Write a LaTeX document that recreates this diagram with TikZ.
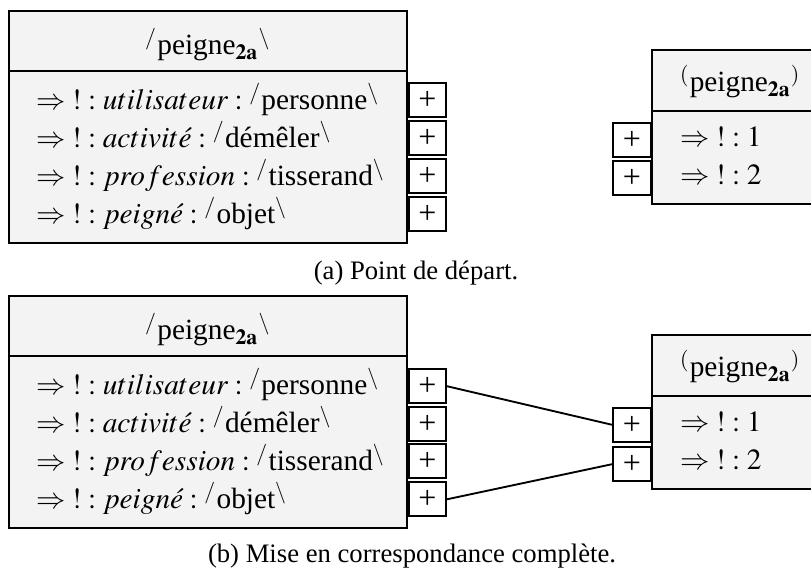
\documentclass[tikz,border=0pt]{standalone}
\usepackage{mathptmx}
\usepackage[no-math]{fontspec}
\setmainfont{Liberation Serif}
\definecolor{boxfill}{RGB}{243,243,243}
\newcommand{\pg}{peigne$_{\mathbf{2a}}$}
\newcommand{\ra}{\Rightarrow\;!:}
\begin{document}
\begin{tikzpicture}[x=0.375pt,y=-0.375pt,
  every node/.style={inner sep=0pt, outer sep=0pt},
  bigbox/.style={draw, line width=0.75pt, fill=boxfill},
  divline/.style={line width=0.75pt},
  plusbox/.style={draw, line width=0.75pt, fill=white, minimum width=13.9pt, minimum height=12.75pt, font=\fontsize{12}{13}\selectfont},
  rplusbox/.style={plusbox, minimum width=14.25pt},
  rowtxt/.style={anchor=base west, font=\fontsize{11}{13}\selectfont},
  headtxt/.style={anchor=base, font=\fontsize{11}{13}\selectfont},
  captxt/.style={anchor=base, font=\fontsize{10}{12}\selectfont},
  conn/.style={line width=0.7pt}]
\useasboundingbox (0,0) rectangle (811,573);
\clip (0,0) rectangle (811,573);

% ---------- (a) ----------
\draw[bigbox] (9,11) rectangle (407,243);
\draw[divline] (9,71) -- (407,71);
\node[headtxt] (ha) at (208,55) {$^{/}$\pg$^{\backslash}$};
\node[rowtxt] (ra1) at (36,110) {$\ra utilisateur :{}^{/}$personne$^{\backslash}$};
\node[rowtxt] (ra2) at (36,148) {$\ra activit\acute{e} :{}^{/}$démêler$^{\backslash}$};
\node[rowtxt] (ra3) at (36,186) {$\ra profession :{}^{/}$tisserand$^{\backslash}$};
\node[rowtxt] (ra4) at (36,224) {$\ra peign\acute{e} :{}^{/}$objet$^{\backslash}$};
\node[plusbox] (pa1) at (427.5,100) {+};
\node[plusbox] (pa2) at (427.5,138.5) {+};
\node[plusbox] (pa3) at (427.5,176.5) {+};
\node[plusbox] (pa4) at (427.5,214) {+};

\draw[bigbox] (652,50) rectangle (830,204);
\draw[divline] (652,111) -- (830,111);
\node[rowtxt] (hra) at (680,92) {$^{(}$\pg$^{)}$};
\node[rowtxt] (sa1) at (680,147) {$\ra 1$};
\node[rowtxt] (sa2) at (680,185) {$\ra 2$};
\node[rplusbox] (qa1) at (632,140) {+};
\node[rplusbox] (qa2) at (632,178) {+};

\node[captxt] (capa) at (416,280) {(a) Point de départ.};

% ---------- (b) ----------
\draw[bigbox] (9,296) rectangle (407,528);
\draw[divline] (9,356) -- (407,356);
\node[headtxt] (hb) at (208,340) {$^{/}$\pg$^{\backslash}$};
\node[rowtxt] (rb1) at (36,395) {$\ra utilisateur :{}^{/}$personne$^{\backslash}$};
\node[rowtxt] (rb2) at (36,433) {$\ra activit\acute{e} :{}^{/}$démêler$^{\backslash}$};
\node[rowtxt] (rb3) at (36,471) {$\ra profession :{}^{/}$tisserand$^{\backslash}$};
\node[rowtxt] (rb4) at (36,509) {$\ra peign\acute{e} :{}^{/}$objet$^{\backslash}$};
\node[plusbox] (pb1) at (427.5,386) {+};
\node[plusbox] (pb2) at (427.5,424) {+};
\node[plusbox] (pb3) at (427.5,461.5) {+};
\node[plusbox] (pb4) at (427.5,499.5) {+};

\draw[bigbox] (652,335) rectangle (830,489);
\draw[divline] (652,396) -- (830,396);
\node[rowtxt] (hrb) at (680,377) {$^{(}$\pg$^{)}$};
\node[rowtxt] (sb1) at (680,432) {$\ra 1$};
\node[rowtxt] (sb2) at (680,470) {$\ra 2$};
\node[rplusbox] (qb1) at (632,425) {+};
\node[rplusbox] (qb2) at (632,464) {+};

\draw[conn] (pb1.east) -- (qb1.west);
\draw[conn] (pb4.east) -- (qb2.west);

\node[captxt] (capb) at (412,563) {(b) Mise en correspondance complète.};
\end{tikzpicture}
\end{document}
